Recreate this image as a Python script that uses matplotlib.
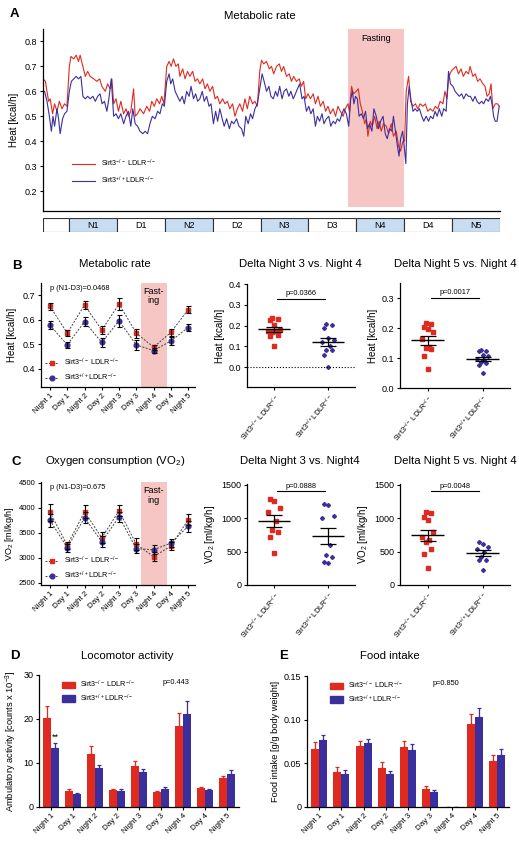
import numpy as np
import matplotlib
matplotlib.use("Agg")
import matplotlib.pyplot as plt
from matplotlib.patches import Patch

plt.rcParams['font.family'] = ['Liberation Sans', 'DejaVu Sans']
plt.rcParams['mathtext.default'] = 'regular'
plt.rcParams['axes.linewidth'] = 0.9
plt.rcParams['xtick.major.width'] = 0.8
plt.rcParams['ytick.major.width'] = 0.8
plt.rcParams['xtick.major.size'] = 2.5
plt.rcParams['ytick.major.size'] = 2.5

RED = '#e12a1f'
BLUE = '#3b2f9e'
SHADE = '#f5c6c4'
KO = r'Sirt3$^{-/-}$ LDLR$^{-/-}$'
WT = r'Sirt3$^{+/+}$LDLR$^{-/-}$'
TITLE = 8.2
TICK = 6.5
YLAB = 7

# ---- panel A: time course (hours, heat kcal/h) ----
t_red = [0.0, 0.6, 1.4, 1.8, 2.4, 2.9, 3.5, 4.1, 4.75, 5.4, 6.0, 6.6, 7.0, 7.7, 8.3, 8.9, 9.3,
         10.0, 10.6, 11.2, 11.8, 12.7, 13.5, 14.2, 14.75, 15.6, 16.2, 16.8, 17.25, 17.7, 18.3,
         18.9, 19.5, 20.2, 20.8, 21.4, 22.0, 22.7, 23.1, 23.7, 24.3, 25.2, 26.0, 26.7, 27.25,
         27.9, 28.5, 29.2, 29.75, 30.3, 31.0, 31.6, 32.1, 32.7, 33.3, 33.9, 34.3, 35.0, 35.6,
         36.2, 36.8, 37.5, 38.1, 38.7, 39.3, 40.0, 40.6, 41.2, 41.8, 42.5, 43.1, 43.7, 44.3,
         45.0, 45.6, 46.2, 46.8, 47.5, 48.1, 48.7, 49.3, 50.0, 50.6, 51.2, 51.8, 52.5, 53.1,
         53.7, 54.3, 54.75, 55.3, 56.0, 56.7, 57.25, 57.8, 58.5, 59.2, 59.75, 60.3, 61.0, 61.7,
         62.25, 62.8, 63.5, 64.2, 64.75, 65.3, 65.8, 66.4, 67.0, 67.7, 68.25, 68.9, 69.5, 70.2,
         70.8, 71.4, 72.0, 72.7, 73.3, 73.9, 74.5, 75.2, 75.75, 76.4, 76.8, 77.3, 77.8, 78.5,
         79.0, 79.5, 80.0, 80.6, 81.0, 81.4, 82.0, 82.5, 83.1, 83.7, 84.2, 84.75, 85.3, 86.0,
         86.6, 87.25, 87.8, 88.5, 89.1, 89.6, 90.2, 90.6, 91.0, 91.6, 92.1, 92.7, 93.3, 93.9,
         94.5, 95.2, 95.8, 96.4, 97.0, 97.7, 98.3, 98.9, 99.5, 100.2, 100.7, 101.2, 101.7,
         102.25, 102.8, 103.5, 104.1, 104.75, 105.3, 106.0, 106.6, 107.0, 107.7, 108.3, 108.9,
         109.5, 110.2, 110.75, 111.25, 111.8, 112.25, 112.7, 113.3, 113.9, 114.3]
heat_red = [0.65, 0.64, 0.56, 0.57, 0.51, 0.55, 0.52, 0.56, 0.53, 0.55, 0.54, 0.70, 0.74, 0.73,
            0.745, 0.72, 0.745, 0.70, 0.66, 0.68, 0.66, 0.65, 0.64, 0.65, 0.62, 0.60, 0.63,
            0.61, 0.65, 0.55, 0.57, 0.52, 0.56, 0.51, 0.53, 0.50, 0.52, 0.61, 0.50, 0.51, 0.53,
            0.51, 0.54, 0.52, 0.56, 0.54, 0.57, 0.55, 0.58, 0.55, 0.70, 0.72, 0.70, 0.73, 0.70,
            0.71, 0.66, 0.69, 0.65, 0.68, 0.66, 0.68, 0.64, 0.65, 0.63, 0.65, 0.61, 0.63, 0.60,
            0.62, 0.57, 0.58, 0.55, 0.57, 0.55, 0.56, 0.53, 0.55, 0.50, 0.53, 0.55, 0.52, 0.57,
            0.53, 0.58, 0.55, 0.56, 0.54, 0.68, 0.725, 0.71, 0.72, 0.69, 0.70, 0.67, 0.70, 0.71,
            0.68, 0.70, 0.66, 0.67, 0.64, 0.66, 0.64, 0.65, 0.62, 0.64, 0.57, 0.59, 0.57, 0.59,
            0.55, 0.58, 0.54, 0.56, 0.52, 0.54, 0.51, 0.53, 0.50, 0.54, 0.52, 0.50, 0.53, 0.55,
            0.52, 0.62, 0.59, 0.60, 0.61, 0.55, 0.52, 0.47, 0.49, 0.42, 0.48, 0.46, 0.50, 0.45,
            0.48, 0.44, 0.47, 0.46, 0.43, 0.47, 0.42, 0.44, 0.38, 0.36, 0.40, 0.40, 0.60, 0.66,
            0.56, 0.54, 0.55, 0.53, 0.55, 0.54, 0.55, 0.52, 0.53, 0.52, 0.54, 0.53, 0.56, 0.55,
            0.60, 0.57, 0.66, 0.68, 0.69, 0.70, 0.67, 0.69, 0.66, 0.68, 0.67, 0.70, 0.66, 0.67,
            0.64, 0.65, 0.63, 0.62, 0.58, 0.59, 0.63, 0.53, 0.55, 0.55, 0.54]
t_blue = [0.0, 0.4, 1.0, 1.6, 2.1, 2.5, 2.9, 3.5, 3.9, 4.3, 4.9, 5.4, 6.0, 6.6, 7.1, 7.7, 8.3,
          8.9, 9.5, 10.0, 10.6, 11.2, 11.8, 12.5, 13.1, 13.7, 14.3, 14.8, 15.4, 16.0, 16.5,
          17.1, 17.7, 18.3, 18.9, 19.5, 20.2, 20.8, 21.4, 22.0, 22.5, 23.1, 23.7, 24.3, 25.0,
          25.6, 26.2, 26.8, 27.4, 28.1, 28.7, 29.3, 29.9, 30.4, 31.0, 31.6, 32.0, 32.5, 33.1,
          33.7, 34.3, 34.9, 35.4, 36.0, 36.6, 37.1, 37.7, 38.25, 38.75, 39.3, 39.9, 40.4, 41.0,
          41.6, 42.1, 42.7, 43.25, 43.75, 44.3, 44.9, 45.4, 46.0, 46.7, 47.25, 47.8, 48.5, 49.1,
          49.75, 50.3, 50.8, 51.4, 52.0, 52.5, 53.1, 53.7, 54.3, 54.9, 55.4, 56.0, 56.6, 57.1,
          57.7, 58.25, 58.75, 59.3, 59.9, 60.4, 61.0, 61.6, 62.1, 62.7, 63.25, 63.75, 64.3,
          64.9, 65.4, 66.0, 66.6, 67.1, 67.7, 68.25, 68.75, 69.3, 69.9, 70.4, 71.0, 71.6, 72.1,
          72.7, 73.25, 73.75, 74.3, 74.9, 75.4, 76.0, 76.6, 77.1, 77.5, 77.9, 78.3, 78.75, 79.2,
          79.75, 80.3, 80.8, 81.3, 81.8, 82.4, 82.9, 83.5, 84.1, 84.6, 85.2, 85.75, 86.25, 86.8,
          87.4, 87.8, 88.3, 88.8, 89.2, 89.6, 90.1, 90.5, 90.9, 91.3, 91.75, 92.25, 92.7, 93.25,
          93.75, 94.3, 94.9, 95.4, 96.0, 96.6, 97.1, 97.7, 98.25, 98.75, 99.3, 99.9, 100.4,
          101.0, 101.6, 102.1, 102.7, 103.25, 103.75, 104.3, 104.9, 105.4, 106.0, 106.6, 107.1,
          107.7, 108.25, 108.75, 109.3, 109.9, 110.4, 111.0, 111.6, 112.1, 112.5, 112.9, 113.3,
          113.75, 114.3]
heat_blue = [0.60, 0.60, 0.56, 0.50, 0.44, 0.50, 0.46, 0.53, 0.49, 0.43, 0.49, 0.51, 0.52,
             0.60, 0.64, 0.65, 0.66, 0.65, 0.66, 0.58, 0.57, 0.58, 0.57, 0.58, 0.56, 0.58, 0.59,
             0.55, 0.56, 0.52, 0.57, 0.65, 0.50, 0.51, 0.49, 0.51, 0.47, 0.50, 0.52, 0.46, 0.53,
             0.47, 0.46, 0.44, 0.43, 0.44, 0.43, 0.47, 0.50, 0.49, 0.52, 0.51, 0.55, 0.54, 0.64,
             0.67, 0.63, 0.65, 0.60, 0.58, 0.56, 0.58, 0.55, 0.60, 0.58, 0.62, 0.57, 0.59, 0.56,
             0.57, 0.60, 0.56, 0.58, 0.54, 0.55, 0.47, 0.52, 0.48, 0.53, 0.49, 0.46, 0.49, 0.45,
             0.48, 0.47, 0.49, 0.46, 0.45, 0.42, 0.50, 0.47, 0.51, 0.49, 0.53, 0.55, 0.61, 0.67,
             0.64, 0.60, 0.62, 0.58, 0.57, 0.60, 0.58, 0.62, 0.57, 0.60, 0.61, 0.58, 0.60, 0.57,
             0.59, 0.61, 0.63, 0.57, 0.58, 0.52, 0.54, 0.51, 0.53, 0.46, 0.50, 0.48, 0.51, 0.47,
             0.49, 0.50, 0.46, 0.48, 0.47, 0.49, 0.48, 0.51, 0.53, 0.51, 0.46, 0.57, 0.60, 0.55,
             0.58, 0.57, 0.50, 0.51, 0.49, 0.52, 0.45, 0.47, 0.44, 0.53, 0.50, 0.45, 0.48, 0.50,
             0.43, 0.41, 0.45, 0.44, 0.50, 0.44, 0.38, 0.34, 0.41, 0.44, 0.38, 0.31, 0.55, 0.62,
             0.56, 0.52, 0.53, 0.52, 0.53, 0.50, 0.48, 0.50, 0.48, 0.50, 0.49, 0.52, 0.50, 0.53,
             0.50, 0.53, 0.52, 0.68, 0.63, 0.62, 0.60, 0.59, 0.58, 0.59, 0.57, 0.59, 0.58, 0.58,
             0.56, 0.58, 0.56, 0.55, 0.56, 0.55, 0.57, 0.56, 0.58, 0.55, 0.50, 0.48, 0.48, 0.54]
seg_labels = ['', 'N1', 'D1', 'N2', 'D2', 'N3', 'D3', 'N4', 'D4', 'N5']
seg_hours = [6.5, 12, 12, 12, 12, 12, 12, 12, 12, 12]
fast_a = (76.5, 90.5)

# ---- panels B/C left: period means ----
periods = ['Night 1', 'Day 1', 'Night 2', 'Day 2', 'Night 3', 'Day 3', 'Night 4', 'Day 4', 'Night 5']
heat_ko = [0.655, 0.545, 0.660, 0.558, 0.664, 0.545, 0.488, 0.548, 0.641]
heat_ko_err = [0.015, 0.012, 0.015, 0.015, 0.025, 0.018, 0.010, 0.015, 0.013]
heat_wt = [0.578, 0.497, 0.592, 0.507, 0.596, 0.497, 0.474, 0.513, 0.568]
heat_wt_err = [0.015, 0.013, 0.018, 0.018, 0.025, 0.020, 0.010, 0.018, 0.013]
vo2_ko = [3910, 3250, 3920, 3400, 3940, 3270, 3020, 3230, 3760]
vo2_ko_err = [170, 70, 130, 110, 110, 120, 90, 80, 110]
vo2_wt = [3750, 3200, 3800, 3320, 3820, 3180, 3160, 3290, 3630]
vo2_wt_err = [130, 80, 110, 110, 100, 90, 90, 80, 110]

# ---- delta scatter panels ----
dh34_ko = [0.236, 0.231, 0.228, 0.204, 0.180, 0.172, 0.167, 0.172, 0.156, 0.151, 0.100]
dh34_wt = [0.204, 0.209, 0.188, 0.140, 0.132, 0.120, 0.100, 0.084, 0.084, 0.060, 0.000]
dh54_ko = [0.218, 0.214, 0.205, 0.197, 0.188, 0.162, 0.138, 0.134, 0.129, 0.106, 0.062]
dh54_wt = [0.126, 0.123, 0.123, 0.110, 0.106, 0.098, 0.093, 0.087, 0.082, 0.076, 0.050]
dv34_ko = [1281, 1256, 1157, 1092, 958, 829, 794, 720, 472]
dv34_wt = [1201, 1216, 1033, 1008, 596, 447, 422, 323, 348]
dv54_ko = [1074, 1089, 1015, 965, 792, 718, 668, 644, 535, 460, 248]
dv54_wt = [644, 619, 569, 545, 495, 421, 381, 371, 223]
p_b = ['p=0.0366', 'p=0.0017']
p_c = ['p=0.0888', 'p=0.0048']

# ---- D / E bars ----
act_ko = [20.3, 3.7, 12.0, 3.9, 9.4, 3.4, 18.5, 4.3, 6.5]
act_ko_err = [2.7, 0.5, 1.8, 0.3, 1.0, 0.3, 2.8, 0.3, 0.6]
act_wt = [13.5, 2.9, 8.9, 3.6, 8.0, 4.2, 21.2, 3.8, 7.4]
act_wt_err = [1.0, 0.2, 0.7, 0.4, 0.7, 0.3, 2.8, 0.3, 0.9]
food_ko = [0.066, 0.040, 0.070, 0.045, 0.069, 0.021, 0.0, 0.095, 0.053]
food_ko_err = [0.008, 0.006, 0.006, 0.006, 0.007, 0.003, 0.0, 0.012, 0.006]
food_wt = [0.077, 0.038, 0.073, 0.038, 0.065, 0.017, 0.0, 0.103, 0.060]
food_wt_err = [0.006, 0.004, 0.005, 0.003, 0.007, 0.003, 0.0, 0.010, 0.006]

W, H = 519, 849
fig = plt.figure(figsize=(W / 100, H / 100), dpi=100)


def box(x0, y0, x1, y1):
    return [x0 / W, 1 - y1 / H, (x1 - x0) / W, (y1 - y0) / H]


def label(x, y, s, **kw):
    fig.text(x / W, 1 - y / H, s, **kw)


def clean(ax):
    for s in ['top', 'right']:
        ax.spines[s].set_visible(False)
    ax.tick_params(labelsize=TICK, pad=1.5)


# panel A
axA = fig.add_axes(box(43, 29, 500, 211))
clean(axA)
axA.axvspan(fast_a[0], fast_a[1], ymin=0.02, color=SHADE, lw=0)
axA.plot(t_red, heat_red, color=RED, lw=0.8, label=KO)
axA.plot(t_blue, heat_blue, color=BLUE, lw=0.8, label=WT)
axA.set_xlim(0, sum(seg_hours))
axA.set_ylim(0.12, 0.85)
axA.set_yticks(np.arange(0.2, 0.81, 0.1))
axA.yaxis.set_major_formatter(matplotlib.ticker.FormatStrFormatter('%.1f'))
axA.set_xticks([])
axA.set_ylabel('Heat [kcal/h]', fontsize=YLAB, labelpad=4)
axA.text(np.mean(fast_a), 0.81, 'Fasting', ha='center', va='center', fontsize=6.5)
axA.legend(loc='lower left', bbox_to_anchor=(0.05, 0.1), frameon=False, fontsize=5.2,
           handlelength=3.2, labelspacing=0.8)
label(10, 14, 'A', fontsize=9.5, fontweight='bold', va='center')
label(260, 16, 'Metabolic rate', fontsize=TITLE, ha='center', va='center')

axN = fig.add_axes(box(43, 218, 500, 232))
starts = np.concatenate([[0], np.cumsum(seg_hours)[:-1]])
seg_col = ['white' if (l == '' or l.startswith('D')) else '#c8dcf2' for l in seg_labels]
axN.barh(0, seg_hours, left=starts, height=1, color=seg_col, edgecolor='#333333', lw=0.8)
for s0, w, l in zip(starts, seg_hours, seg_labels):
    axN.text(s0 + w / 2, 0, l, ha='center', va='center', fontsize=6.5)
axN.set_xlim(0, sum(seg_hours))
axN.set_ylim(-0.5, 0.5)
axN.axis('off')

xcat = np.arange(len(periods))


def period_panel(ax, ko, ko_err, wt, wt_err, ylim, yticks, fmt, ylab, ptxt, fast_y,
                 lab_x, tick_fs, lab_fs):
    clean(ax)
    ax.tick_params(axis='y', labelsize=tick_fs)
    ax.axvspan(5.3, 6.75, color=SHADE, lw=0)
    ax.plot(xcat, ko, ls=(0, (2, 1.5)), color='#444444', lw=0.7, marker='s', ms=3.4,
            mfc=RED, mec=RED, label=KO)
    ax.plot(xcat, wt, ls=(0, (2, 1.5)), color='#444444', lw=0.7, marker='o', ms=3.4,
            mfc=BLUE, mec=BLUE, label=WT)
    ax.errorbar(xcat, ko, yerr=ko_err, fmt='none', ecolor='black', elinewidth=0.8,
                capsize=1.8, capthick=0.8, zorder=4)
    ax.errorbar(xcat, wt, yerr=wt_err, fmt='none', ecolor='black', elinewidth=0.8,
                capsize=1.8, capthick=0.8, zorder=4)
    ax.set_xlim(-0.52, 8.4)
    ax.set_ylim(*ylim)
    ax.set_yticks(yticks)
    ax.yaxis.set_major_formatter(matplotlib.ticker.FormatStrFormatter(fmt))
    ax.set_xticks(xcat)
    ax.set_xticklabels(periods, rotation=45, ha='right', rotation_mode='anchor', fontsize=5.8)
    ax.set_ylabel(ylab, fontsize=lab_fs)
    ax.yaxis.set_label_coords(lab_x, 0.5)
    ax.text(0.0, ylim[1] - (ylim[1] - ylim[0]) * 0.05, ptxt, fontsize=5.3, va='center')
    ax.text(6.0, fast_y, 'Fast-\ning', fontsize=6.5, ha='center', va='top', linespacing=1.1)
    ax.legend(loc='lower left', bbox_to_anchor=(0.0, 0.0), frameon=False, fontsize=5.2,
              handlelength=1.8, labelspacing=0.5, borderaxespad=0.2)


def spread(vals, step=0.07):
    pattern = [0, -1, 1, -0.5, 0.5, -1.5, 1.5]
    order = np.argsort(vals)
    off = np.zeros(len(vals))
    for k, i in enumerate(order):
        off[i] = pattern[k % len(pattern)] * step
    return off


def delta_panel(ax, ko, wt, ylim, yticks, fmt, ylab, ptxt, py, zero_line=False):
    clean(ax)
    for i, (vals, col, mk) in enumerate([(ko, RED, 's'), (wt, BLUE, 'D')]):
        vals = np.array(vals, dtype=float)
        ax.plot(i + spread(vals), vals, ls='none', marker=mk, ms=2.3 if mk == 's' else 2.0,
                color=col, mec=col)
        m = vals.mean()
        sem = vals.std(ddof=1) / np.sqrt(len(vals))
        ax.hlines(m, i - 0.3, i + 0.3, color='black', lw=1.0, zorder=4)
        ax.errorbar(i, m, yerr=sem, fmt='none', ecolor='black', elinewidth=0.9,
                    capsize=6, capthick=0.9, zorder=4)
    if zero_line:
        ax.axhline(0, ls=':', color='black', lw=0.8)
    ax.plot([0.06, 0.94], [py, py], color='black', lw=0.8)
    ax.text(0.5, py + (ylim[1] - ylim[0]) * 0.015, ptxt, ha='center', va='bottom', fontsize=5.3)
    ax.set_xlim(-0.5, 1.5)
    ax.set_ylim(*ylim)
    ax.set_yticks(yticks)
    if fmt:
        ax.yaxis.set_major_formatter(matplotlib.ticker.FormatStrFormatter(fmt))
    ax.set_xticks([0, 1])
    ax.set_xticklabels([KO, WT], rotation=50, ha='right', rotation_mode='anchor', fontsize=5.3)
    ax.set_ylabel(ylab, fontsize=YLAB, labelpad=3)


# panel B
axB1 = fig.add_axes(box(41, 283, 195, 387))
period_panel(axB1, heat_ko, heat_ko_err, heat_wt, heat_wt_err, (0.325, 0.75),
             [0.4, 0.5, 0.6, 0.7], '%.1f', 'Heat [kcal/h]', 'p (N1-D3)=0.0468', 0.735,
             -0.155, TICK, YLAB)
axB2 = fig.add_axes(box(247, 284, 355, 387))
delta_panel(axB2, dh34_ko, dh34_wt, (-0.095, 0.4), [0.0, 0.1, 0.2, 0.3, 0.4], '%.1f',
            'Heat [kcal/h]', p_b[0], 0.33, zero_line=True)
axB3 = fig.add_axes(box(400, 283, 510, 388))
delta_panel(axB3, dh54_ko, dh54_wt, (0, 0.35), [0.0, 0.1, 0.2, 0.3], '%.1f',
            'Heat [kcal/h]', p_b[1], 0.30)
label(12, 266, 'B', fontsize=9.5, fontweight='bold', va='center')
label(115, 264, 'Metabolic rate', fontsize=TITLE, ha='center', va='center')
label(300, 264, 'Delta Night 3 vs. Night 4', fontsize=TITLE, ha='center', va='center')
label(455, 264, 'Delta Night 5 vs. Night 4', fontsize=TITLE, ha='center', va='center')

# panel C
axC1 = fig.add_axes(box(41, 482, 195, 585))
period_panel(axC1, vo2_ko, vo2_ko_err, vo2_wt, vo2_wt_err, (2450, 4520),
             [2500, 3000, 3500, 4000, 4500], '%d', r'VO$_2$ [ml/kg/h]', 'p (N1-D3)=0.675', 4440,
             -0.16, 5.5, 6.5)
axC2 = fig.add_axes(box(247, 484, 355, 585))
delta_panel(axC2, dv34_ko, dv34_wt, (0, 1510), [0, 500, 1000, 1500], None,
            r'VO$_2$ [ml/kg/h]', p_c[0], 1400)
axC3 = fig.add_axes(box(400, 484, 510, 585))
delta_panel(axC3, dv54_ko, dv54_wt, (0, 1510), [0, 500, 1000, 1500], None,
            r'VO$_2$ [ml/kg/h]', p_c[1], 1400)
label(12, 462, 'C', fontsize=9.5, fontweight='bold', va='center')
label(115, 461, r'Oxygen consumption (VO$_2$)', fontsize=TITLE, ha='center', va='center')
label(300, 461, 'Delta Night 3 vs. Night4', fontsize=TITLE, ha='center', va='center')
label(455, 461, 'Delta Night 5 vs. Night 4', fontsize=TITLE, ha='center', va='center')


def bar_panel(ax, ko, ko_err, wt, wt_err, ylim, yticks, ticklabels, ylab, ptxt):
    clean(ax)
    w = 0.36
    ax.bar(xcat - w / 2, ko, w, color=RED, yerr=[np.zeros(len(ko)), ko_err],
           error_kw=dict(ecolor=RED, elinewidth=0.9, capsize=1.6, capthick=0.9))
    ax.bar(xcat + w / 2, wt, w, color=BLUE, yerr=[np.zeros(len(wt)), wt_err],
           error_kw=dict(ecolor=BLUE, elinewidth=0.9, capsize=1.6, capthick=0.9))
    ax.set_xlim(-0.55, 8.55)
    ax.set_ylim(*ylim)
    ax.set_yticks(yticks)
    ax.set_yticklabels(ticklabels)
    ax.set_xticks(xcat)
    ax.set_xticklabels(periods, rotation=45, ha='right', rotation_mode='anchor', fontsize=5.8)
    ax.set_ylabel(ylab, fontsize=6.7, labelpad=3)
    handles = [Patch(color=RED, label=KO), Patch(color=BLUE, label=WT)]
    ax.legend(handles=handles, loc='upper left', bbox_to_anchor=(0.08, 1.02), frameon=False,
              fontsize=5.2, handlelength=1.8, handleheight=1.0, labelspacing=0.3)
    ax.text(0.62, 0.94, ptxt, transform=ax.transAxes, fontsize=5.3, va='center')


# panel D
axD = fig.add_axes(box(39, 675, 239, 807))
bar_panel(axD, act_ko, act_ko_err, act_wt, act_wt_err, (0, 30), [0, 10, 20, 30],
          ['0', '10', '20', '30'], r'Ambulatory activity [counts x 10$^{-3}$]', 'p=0.443')
axD.text(0 + 0.18, act_wt[0] + act_wt_err[0] + 0.3, '**', ha='center', va='bottom', fontsize=6.5)
label(10, 656, 'D', fontsize=9.5, fontweight='bold', va='center')
label(127, 656, 'Locomotor activity', fontsize=TITLE, ha='center', va='center')

# panel E
axE = fig.add_axes(box(307, 676, 509, 807))
bar_panel(axE, food_ko, food_ko_err, food_wt, food_wt_err, (0, 0.15), [0, 0.05, 0.10, 0.15],
          ['0', '0.05', '0.10', '0.15'], 'Food intake [g/g body weight]', 'p=0.850')
label(279, 656, 'E', fontsize=9.5, fontweight='bold', va='center')
label(390, 656, 'Food intake', fontsize=TITLE, ha='center', va='center')

fig.savefig('out.png', dpi=100)
